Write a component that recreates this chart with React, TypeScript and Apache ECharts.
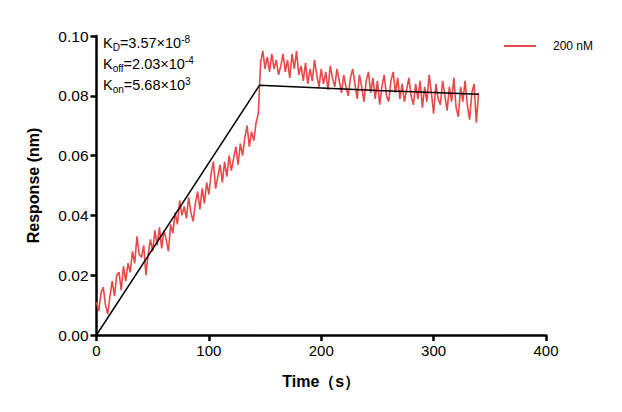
import React, { useEffect, useRef } from "react";
import * as echarts from "echarts";

const sampleStep = 2;
const assocStart = 0;
const assocValues = [
  0.011, 0.008, 0.014, 0.016, 0.010, 0.007, 0.013, 0.018, 0.013, 0.020,
  0.021, 0.015, 0.023, 0.018, 0.024, 0.021, 0.028, 0.024, 0.033, 0.027,
  0.026, 0.030, 0.020, 0.027, 0.032, 0.028, 0.035, 0.030, 0.036, 0.029,
  0.035, 0.032, 0.028, 0.037, 0.034, 0.041, 0.037, 0.045, 0.040, 0.043,
  0.039, 0.046, 0.041, 0.038, 0.044, 0.048, 0.042, 0.049, 0.044, 0.051,
  0.047, 0.054, 0.058, 0.049, 0.053, 0.057, 0.051, 0.058, 0.053, 0.060,
  0.055, 0.059, 0.063, 0.057, 0.064, 0.060, 0.066, 0.070, 0.063, 0.068,
  0.065, 0.071, 0.074,
];
const dissocStart = 146;
const dissocValues = [
  0.091, 0.095, 0.089, 0.093, 0.088, 0.094, 0.089, 0.092, 0.087, 0.090,
  0.094, 0.088, 0.092, 0.086, 0.094, 0.089, 0.095, 0.087, 0.090, 0.085,
  0.091, 0.084, 0.089, 0.085, 0.092, 0.087, 0.083, 0.089, 0.084, 0.088,
  0.082, 0.090, 0.086, 0.083, 0.089, 0.085, 0.081, 0.087, 0.083, 0.080,
  0.086, 0.089, 0.084, 0.079, 0.087, 0.083, 0.078, 0.085, 0.088, 0.081,
  0.086, 0.079, 0.085, 0.077, 0.083, 0.087, 0.080, 0.078, 0.085, 0.088,
  0.081, 0.086, 0.079, 0.084, 0.078, 0.082, 0.086, 0.080, 0.077, 0.084,
  0.079, 0.085, 0.076, 0.083, 0.078, 0.087, 0.081, 0.074, 0.084, 0.079,
  0.077, 0.085, 0.080, 0.075, 0.083, 0.078, 0.086, 0.076, 0.073, 0.083,
  0.078, 0.085, 0.077, 0.072, 0.081, 0.084, 0.071, 0.081,
];
const fitTimes = [0, 145, 200, 250, 300, 340];
const fitValues = [0, 0.0835, 0.0826, 0.0818, 0.0811, 0.0805];
const seriesName = "200 nM";
const xTicks = [0, 100, 200, 300, 400];
const yTicks = [0, 0.02, 0.04, 0.06, 0.08, 0.1];

export default function App() {
  const ref = useRef<HTMLDivElement>(null);
  useEffect(() => {
    if (!ref.current) return;
    const chart = echarts.init(ref.current, undefined, { renderer: "svg" });
    const measured: [number, number][] = [];
    assocValues.forEach((v, i) => measured.push([assocStart + i * sampleStep, v]));
    dissocValues.forEach((v, i) => measured.push([dissocStart + i * sampleStep, v]));
    const fit = fitTimes.map((t, i) => [t, fitValues[i]]);
    const font = "Arial, 'Liberation Sans', sans-serif";
    const richBase = {
      a: { fontSize: 14.5, fontFamily: font, color: "#000", lineHeight: 21 },
      s: { fontSize: 10, fontFamily: font, color: "#000", padding: [8, 0, 0, 0] },
      p: { fontSize: 10, fontFamily: font, color: "#000", padding: [0, 0, 8, 0] },
    };
    chart.setOption({
      animation: false,
      backgroundColor: "#fff",
      grid: { left: 88.5, right: 68, top: 28, bottom: 69 },
      legend: {
        data: [{ name: seriesName, icon: "rect" }],
        right: 16,
        top: 27,
        itemWidth: 32,
        itemHeight: 2,
        itemGap: 10,
        textStyle: { fontSize: 12, fontFamily: font, color: "#000", padding: [0, 0, 0, 12] },
      },
      xAxis: {
        type: "value",
        min: xTicks[0],
        max: xTicks[xTicks.length - 1],
        interval: 100,
        name: "Time（s）",
        nameLocation: "middle",
        nameGap: 38,
        nameTextStyle: { fontSize: 16, fontWeight: "bold", fontFamily: font, color: "#000" },
        axisLine: { lineStyle: { color: "#000", width: 2.5 } },
        axisTick: { length: 6, lineStyle: { color: "#000", width: 2.5 } },
        axisLabel: { fontSize: 15, fontFamily: font, color: "#000", margin: 8 },
        splitLine: { show: false },
      },
      yAxis: {
        type: "value",
        min: yTicks[0],
        max: yTicks[yTicks.length - 1],
        interval: 0.02,
        name: "Response (nm)",
        nameLocation: "middle",
        nameGap: 55,
        nameTextStyle: { fontSize: 16, fontWeight: "bold", fontFamily: font, color: "#000" },
        axisLine: { show: true, lineStyle: { color: "#000", width: 2.5 } },
        axisTick: { show: true, length: 6, lineStyle: { color: "#000", width: 2.5 } },
        axisLabel: {
          fontSize: 15.5,
          fontFamily: font,
          color: "#000",
          margin: 8,
          formatter: (v: number) => v.toFixed(2),
        },
        splitLine: { show: false },
      },
      series: [
        {
          name: seriesName,
          type: "line",
          data: measured,
          showSymbol: false,
          lineStyle: { color: "#e8474a", width: 1.6 },
          itemStyle: { color: "#e8474a" },
          z: 2,
        },
        {
          name: "fit",
          type: "line",
          data: fit,
          showSymbol: false,
          lineStyle: { color: "#000", width: 1.5 },
          itemStyle: { color: "#000" },
          z: 3,
        },
      ],
      graphic: [
        {
          type: "text",
          left: 95,
          top: 26,
          style: { text: "{a|K}{s|D}{a|=3.57×10}{p|-8}", rich: richBase },
        },
        {
          type: "text",
          left: 95,
          top: 47,
          style: { text: "{a|K}{s|off}{a|=2.03×10}{p|-4}", rich: richBase },
        },
        {
          type: "text",
          left: 95,
          top: 68,
          style: { text: "{a|K}{s|on}{a|=5.68×10}{p|3}", rich: richBase },
        },
      ],
    });
    return () => chart.dispose();
  }, []);
  return <div ref={ref} style={{ width: 606, height: 396 }} />;
}
